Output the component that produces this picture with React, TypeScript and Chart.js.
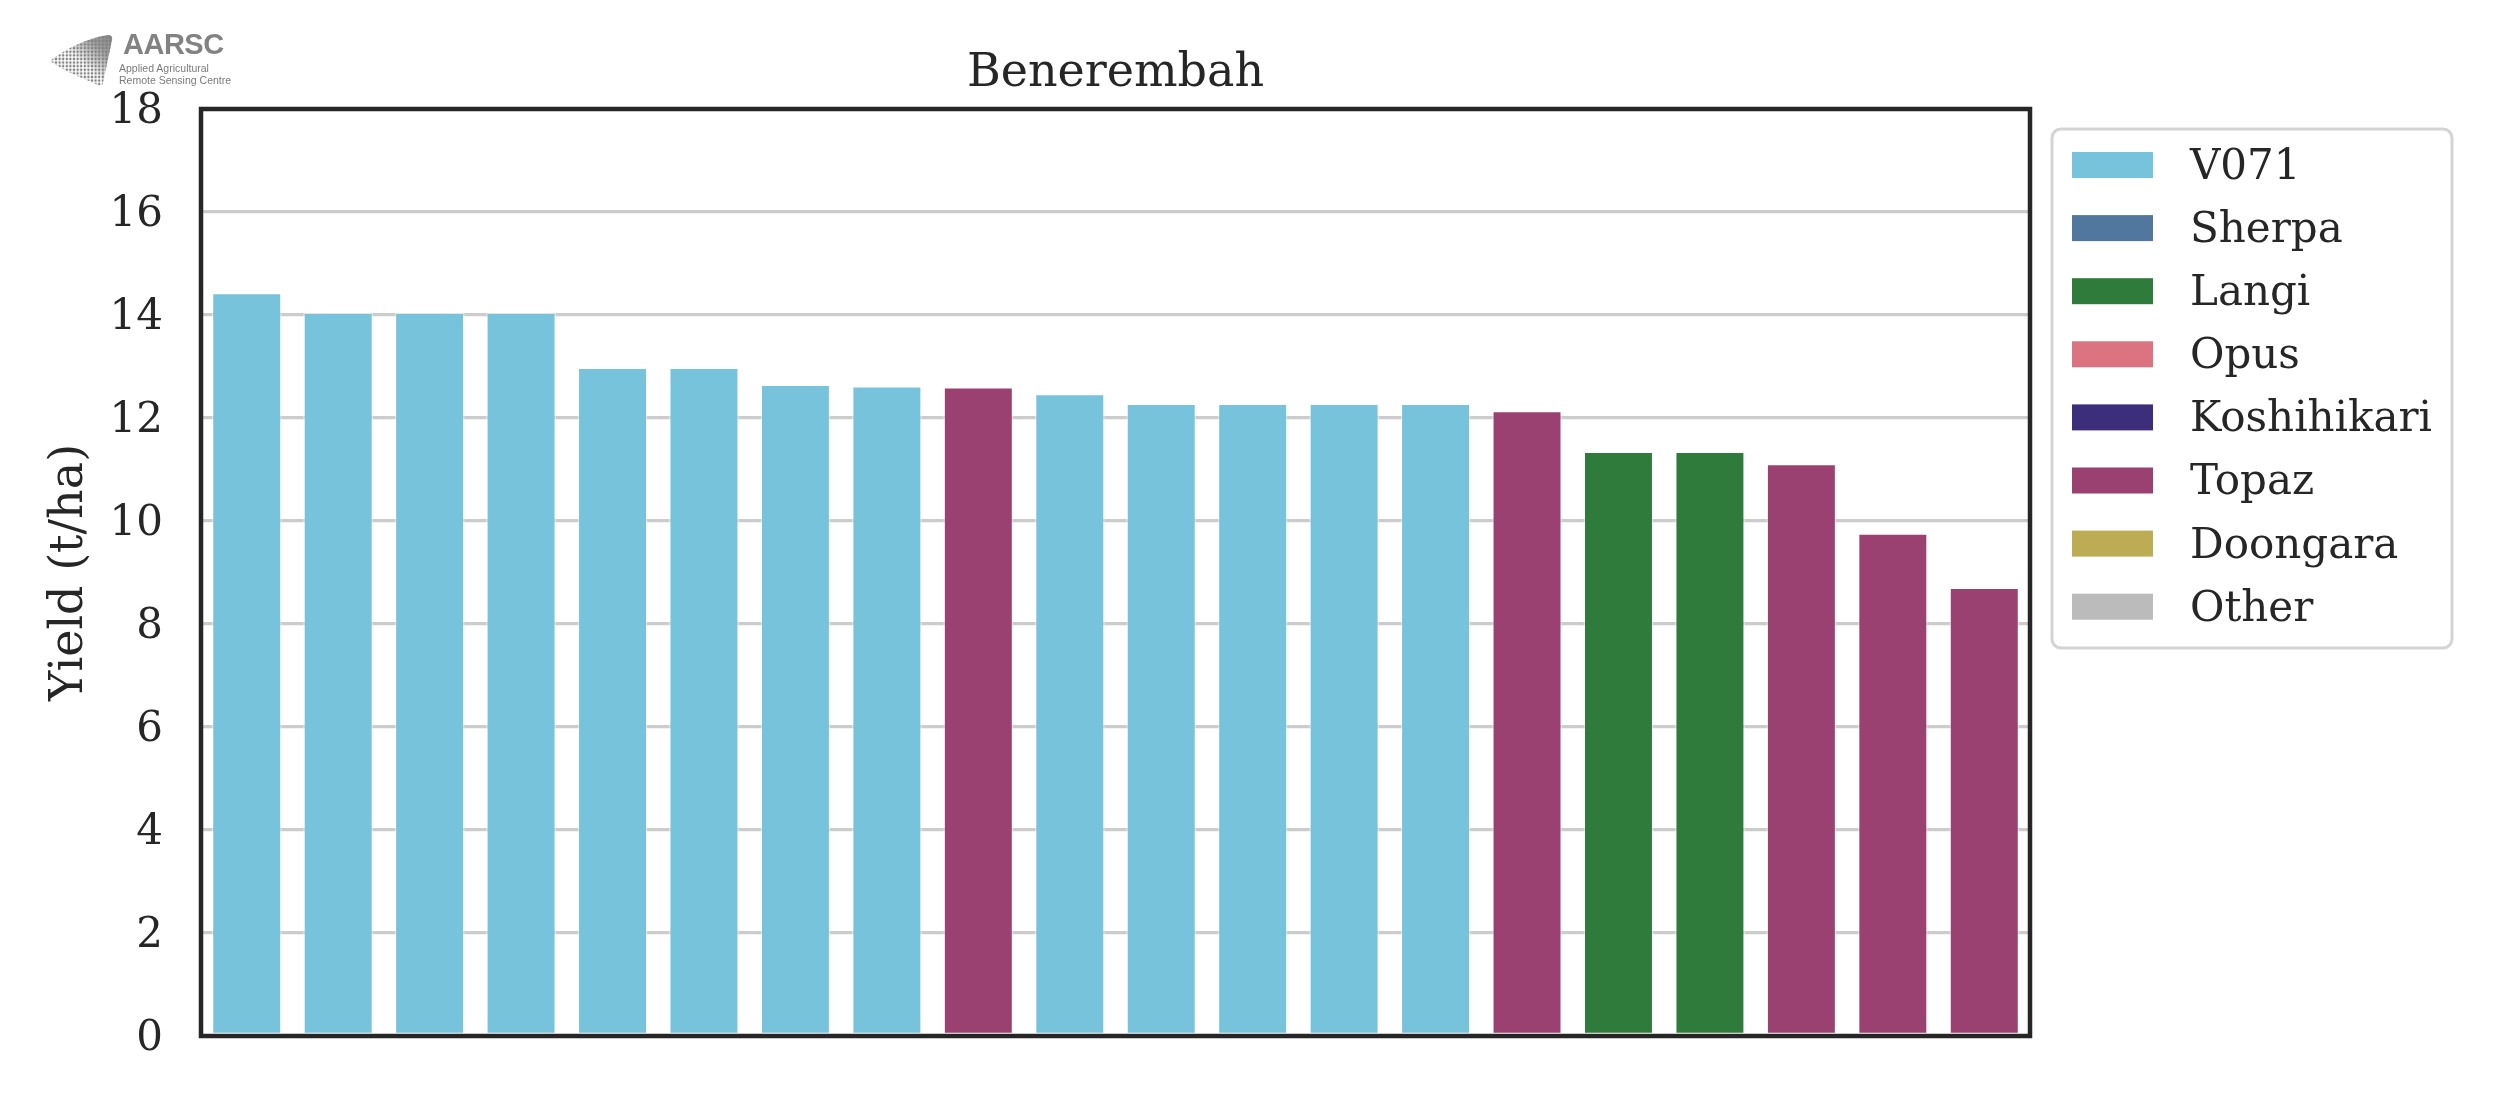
import React, { useEffect, useRef } from "react";
import { Chart, registerables } from "chart.js";

Chart.register(...registerables);

// ---- data ----
const chartTitle = "Benerembah";
const yAxisLabel = "Yield (t/ha)";
const fieldIds = ["1","2","3","4","5","6","7","8","9","10","11","12","13","14","15","16","17","18","19","20"];
const fieldVarieties = ["V071","V071","V071","V071","V071","V071","V071","V071","Topaz","V071","V071","V071","V071","V071","Topaz","Langi","Langi","Topaz","Topaz","Topaz"];
const yields = [14.43, 14.05, 14.05, 14.05, 12.98, 12.98, 12.65, 12.62, 12.60, 12.47, 12.28, 12.28, 12.28, 12.28, 12.14, 11.35, 11.35, 11.11, 9.76, 8.71];
const legendVarieties = ["V071","Sherpa","Langi","Opus","Koshihikari","Topaz","Doongara","Other"];
const legendColors = ["#78C3DC","#51779F","#2E7B3B","#DB7480","#3C2E7B","#9A4172","#BCAD55","#BBBBBB"];
const yTickMin = 0;
const yTickMax = 18;
const yTickStep = 2;

const FONT = "'DejaVu Serif', serif";
const TEXT = "#262626";

const decorPlugin = {
  id: "decor",
  afterDraw(chart: any) {
    const { ctx, chartArea } = chart;
    const { left, right, top, bottom } = chartArea;
    ctx.save();
    // frame
    ctx.strokeStyle = TEXT;
    ctx.lineWidth = 4.5;
    ctx.strokeRect(left, top, right - left, bottom - top);
    // title
    ctx.fillStyle = TEXT;
    ctx.font = `46px ${FONT}`;
    ctx.textAlign = "center";
    ctx.textBaseline = "alphabetic";
    ctx.fillText(chartTitle, (left + right) / 2, 85.5);
    // legend
    const bx = 2052, by = 129, bw = 400, bh = 519;
    ctx.beginPath();
    ctx.roundRect(bx, by, bw, bh, 9);
    ctx.fillStyle = "#ffffff";
    ctx.fill();
    ctx.strokeStyle = "#d4d4d4";
    ctx.lineWidth = 3;
    ctx.stroke();
    ctx.font = `42px ${FONT}`;
    ctx.textAlign = "left";
    ctx.textBaseline = "middle";
    legendVarieties.forEach((name, i) => {
      const cy = 165 + i * 63.1;
      ctx.fillStyle = legendColors[i];
      ctx.fillRect(2072, cy - 13, 81, 26);
      ctx.fillStyle = TEXT;
      ctx.fillText(name, 2190, cy + 3);
    });
    ctx.restore();
  },
};

function Logo() {
  return (
    <>
      <svg
        width={70}
        height={60}
        style={{ position: "absolute", left: 47, top: 32 }}
        viewBox="0 0 70 60"
      >
        <defs>
          <pattern id="dots" width="3.6" height="3.6" patternUnits="userSpaceOnUse">
            <circle cx="1.8" cy="1.8" r="1.25" fill="#7f7f7f" />
          </pattern>
          <linearGradient id="fade" x1="1" y1="0" x2="0.15" y2="0.85">
            <stop offset="0" stopColor="#7f7f7f" stopOpacity="1" />
            <stop offset="0.3" stopColor="#7f7f7f" stopOpacity="0.75" />
            <stop offset="0.6" stopColor="#7f7f7f" stopOpacity="0" />
          </linearGradient>
          <clipPath id="leaf">
            <path d="M61,3 Q66,3 65,8 L56,51 Q55,55 51,53 C35,46 15,38 3,29 C18,17 40,6 61,3 Z" />
          </clipPath>
        </defs>
        <g clipPath="url(#leaf)">
          <rect x="0" y="0" width="70" height="60" fill="url(#dots)" />
          <rect x="0" y="0" width="70" height="60" fill="url(#fade)" />
        </g>
      </svg>
      <div
        style={{
          position: "absolute",
          left: 123,
          top: 30,
          font: "bold 29px 'Liberation Sans', Arial, sans-serif",
          color: "#828282",
          lineHeight: "29px",
          letterSpacing: "-0.5px",
        }}
      >
        AARSC
      </div>
      <div
        style={{
          position: "absolute",
          left: 119,
          top: 63,
          font: "10.5px 'Liberation Sans', Arial, sans-serif",
          color: "#7a7a7a",
          lineHeight: "11.5px",
          whiteSpace: "nowrap",
        }}
      >
        Applied Agricultural
        <br />
        Remote Sensing Centre
      </div>
    </>
  );
}

export default function App() {
  const canvasRef = useRef<HTMLCanvasElement | null>(null);

  useEffect(() => {
    const canvas = canvasRef.current;
    if (!canvas) return;
    const colors = fieldVarieties.map((v) => legendColors[legendVarieties.indexOf(v)]);
    const chart = new Chart(canvas, {
      type: "bar",
      data: {
        labels: fieldIds,
        datasets: [
          {
            data: yields,
            backgroundColor: colors,
            borderColor: "rgba(255,255,255,0.45)",
            borderWidth: 1.5,
            borderSkipped: false,
            barPercentage: 0.765,
            categoryPercentage: 1,
          },
        ],
      },
      options: {
        responsive: false,
        animation: false,
        devicePixelRatio: 1,
        layout: { padding: { left: 42, top: 109, right: 470, bottom: 75 } },
        plugins: {
          legend: { display: false },
          tooltip: { enabled: false },
          title: { display: false },
        },
        scales: {
          x: { display: false },
          y: {
            min: yTickMin,
            max: yTickMax,
            ticks: {
              stepSize: yTickStep,
              font: { family: FONT, size: 42 },
              color: TEXT,
              padding: 38,
              labelOffset: 3,
            },
            grid: { color: "#cccccc", lineWidth: 3.3, drawTicks: false },
            border: { display: false },
            title: {
              display: true,
              text: yAxisLabel,
              font: { family: FONT, size: 46 },
              color: TEXT,
              padding: 0,
            },
            afterFit: (scale: any) => {
              scale.width = 159;
            },
          },
        },
      },
      plugins: [decorPlugin],
    } as any);
    return () => chart.destroy();
  }, []);

  return (
    <div
      style={{
        position: "absolute",
        left: 0,
        top: 0,
        width: 2500,
        height: 1111,
        background: "#ffffff",
        overflow: "hidden",
      }}
    >
      <canvas
        ref={canvasRef}
        width={2500}
        height={1111}
        style={{ position: "absolute", left: 0, top: 0, width: 2500, height: 1111 }}
      />
      <Logo />
    </div>
  );
}
